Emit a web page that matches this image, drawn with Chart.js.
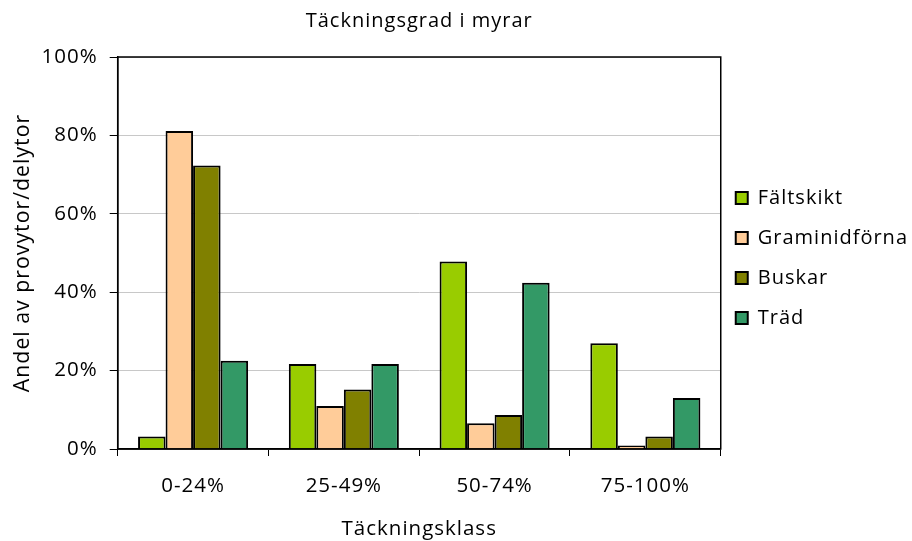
<!DOCTYPE html>
<html>
<head>
<meta charset="utf-8">
<script src="https://cdn.jsdelivr.net/npm/chart.js"></script>
<style>
  html, body { margin: 0; padding: 0; background: #fff; }
</style>
</head>
<body>
<canvas id="myChart" width="912" height="541"></canvas>
<script>
// kategorier och värden (andel i %)
const klasser = ["0-24%", "25-49%", "50-74%", "75-100%"];
const faltskikt = [3.2, 21.7, 47.8, 27.0];
const graminidforna = [81.1, 11.0, 6.6, 0.9];
const buskar = [72.3, 15.2, 8.7, 3.2];
const trad = [22.5, 21.7, 42.4, 13.0];
const yTicks = [0, 20, 40, 60, 80, 100];

const FONT = "'Open Sans', 'DejaVu Sans', sans-serif";

// lite bokstavsavstånd som i originalet
const spacingPlugin = {
  id: "spacing",
  beforeUpdate(chart) { chart.ctx.letterSpacing = "1px"; },
  beforeDraw(chart) { chart.ctx.letterSpacing = "1px"; },
  // flytta legenden lite närmare ritytan
  afterLayout(chart) {
    chart.legend.left -= 5;
    chart.legend.right -= 5;
  }
};

// ram runt ritytan (topp + höger)
const framePlugin = {
  id: "frame",
  afterDatasetsDraw(chart) {
    const a = chart.chartArea;
    const ctx = chart.ctx;
    ctx.save();
    ctx.strokeStyle = "#000";
    ctx.lineWidth = 1.5;
    ctx.strokeRect(a.left, a.top, a.right - a.left, a.bottom - a.top);
    ctx.restore();
  }
};

const ds = (label, data, color) => ({
  label, data,
  backgroundColor: color,
  borderColor: "#000",
  borderWidth: 2,
  categoryPercentage: 0.73,
  barPercentage: 1.0
});

new Chart(document.getElementById("myChart"), {
  type: "bar",
  data: {
    labels: klasser,
    datasets: [
      ds("Fältskikt", faltskikt, "#99CC00"),
      ds("Graminidförna", graminidforna, "#FFCC99"),
      ds("Buskar", buskar, "#808000"),
      ds("Träd", trad, "#339966")
    ]
  },
  options: {
    responsive: false,
    animation: false,
    devicePixelRatio: 1,
    layout: { padding: { left: 10, right: -11, top: -25, bottom: 0 } },
    plugins: {
      title: {
        display: true,
        fullSize: false,
        text: "Täckningsgrad i myrar",
        color: "#000",
        font: { family: FONT, size: 20, weight: "normal" },
        padding: { top: 34, bottom: 24 }
      },
      legend: {
        position: "right",
        labels: {
          color: "#000",
          font: { family: FONT, size: 20 },
          boxWidth: 12,
          boxHeight: 12,
          padding: 20
        }
      },
      tooltip: { enabled: false }
    },
    scales: {
      x: {
        afterFit(scale) { scale.height = 92; },
        grid: { display: true, drawOnChartArea: false, color: "#000", tickLength: 7, offset: true },
        border: { color: "#000", width: 1.5 },
        ticks: { color: "#000", font: { family: FONT, size: 20.5 }, padding: 18 },
        title: {
          display: true,
          text: "Täckningsklass",
          color: "#000",
          font: { family: FONT, size: 20.5 },
          padding: { top: 18, bottom: 0 }
        }
      },
      y: {
        min: 0,
        max: 100,
        afterBuildTicks(scale) { scale.ticks = yTicks.map(v => ({ value: v })); },
        afterFit(scale) { scale.width = 107.7; },
        grid: { color: "#C8C8C8", tickColor: "#000", tickLength: 8, lineWidth: 1 },
        border: { color: "#000", width: 1.5 },
        ticks: { color: "#000", font: { family: FONT, size: 20.5 }, padding: 12, callback: v => v + "%" },
        title: {
          display: true,
          text: "Andel av provytor/delytor",
          color: "#000",
          font: { family: FONT, size: 21.3 },
          padding: { top: 0, bottom: 8 }
        }
      }
    }
  },
  plugins: [spacingPlugin, framePlugin]
});
</script>
</body>
</html>
